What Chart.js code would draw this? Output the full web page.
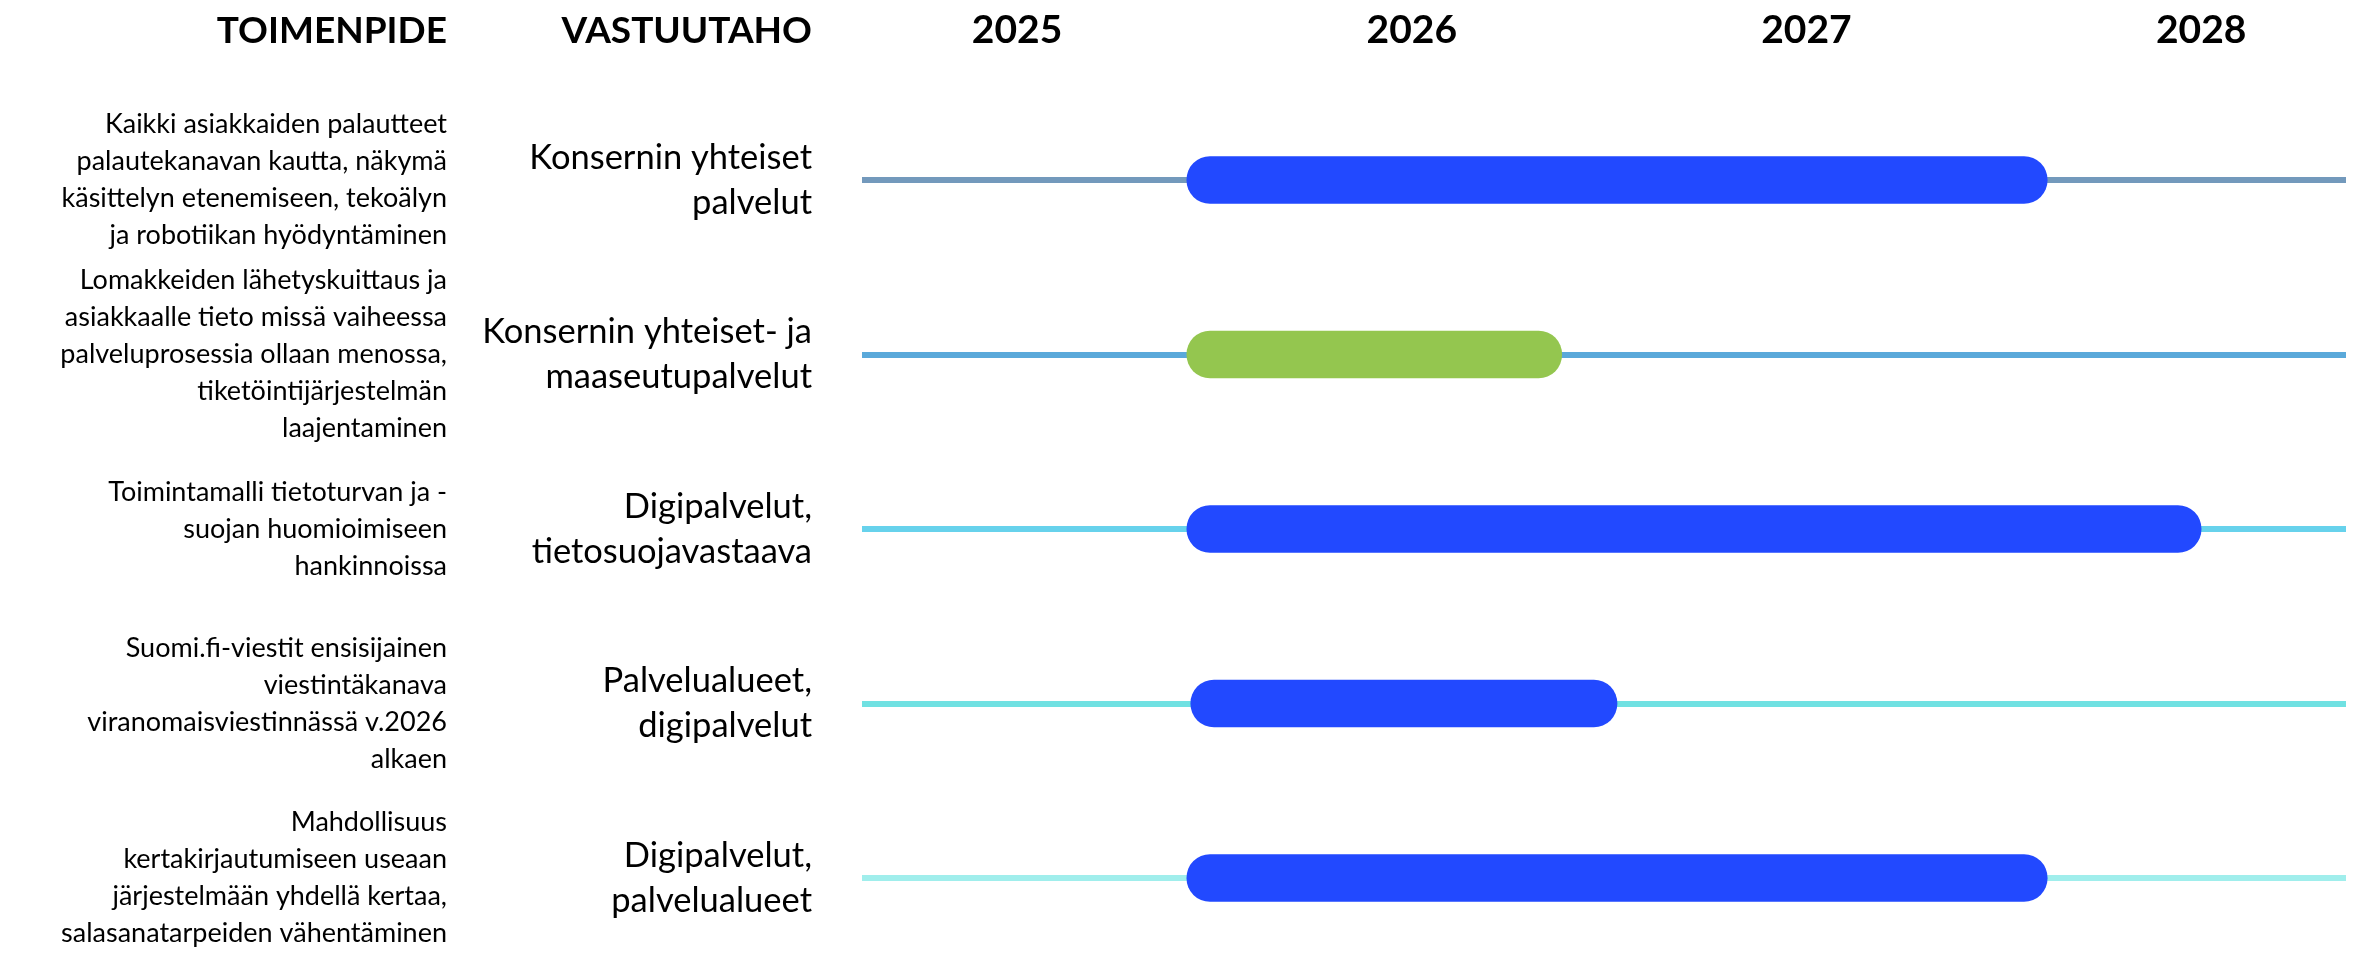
<!DOCTYPE html>
<html lang="fi">
<head>
<meta charset="utf-8">
<title>Toimenpiteet 2025–2028</title>
<script src="https://cdn.jsdelivr.net/npm/chart.js@4.4.1/dist/chart.umd.min.js"></script>
<style>
  html, body { margin: 0; padding: 0; background: #fff; }
  #wrap { width: 2359px; height: 953px; position: relative; }
</style>
</head>
<body>
<div id="wrap"><canvas id="aikajana"></canvas></div>
<script>
// Column headers
const sarakeOtsikot = ['TOIMENPIDE', 'VASTUUTAHO'];

// Rows (left column = action, middle column = responsible party)
const toimenpiteet = [
  ['Kaikki asiakkaiden palautteet', 'palautekanavan kautta, näkymä', 'käsittelyn etenemiseen, tekoälyn', 'ja robotiikan hyödyntäminen'],
  ['Lomakkeiden lähetyskuittaus ja', 'asiakkaalle tieto missä vaiheessa', 'palveluprosessia ollaan menossa,', 'tiketöintijärjestelmän', 'laajentaminen'],
  ['Toimintamalli tietoturvan ja -', 'suojan huomioimiseen', 'hankinnoissa'],
  ['Suomi.fi-viestit ensisijainen', 'viestintäkanava', 'viranomaisviestinnässä v.2026', 'alkaen'],
  ['Mahdollisuus', 'kertakirjautumiseen useaan', 'järjestelmään yhdellä kertaa,', 'salasanatarpeiden vähentäminen']
];
const vastuutahot = [
  ['Konsernin yhteiset', 'palvelut'],
  ['Konsernin yhteiset- ja', 'maaseutupalvelut'],
  ['Digipalvelut,', 'tietosuojavastaava'],
  ['Palvelualueet,', 'digipalvelut'],
  ['Digipalvelut,', 'palvelualueet']
];

// Years on the time axis and the visible range of the timeline
const vuodet = [2025, 2026, 2027, 2028];
const aikaMin = 2024.607;
const aikaMax = 2028.367;

// Start / end of each action (in years)
const alku = [2025.43, 2025.43, 2025.43, 2025.44, 2025.43];
const loppu = [2027.61, 2026.38, 2028.0, 2026.52, 2027.61];

// Colours
const palkkiVarit = ['#2249FF', '#94C64F', '#2249FF', '#2249FF', '#2249FF'];
const viivaVarit = ['#7399BC', '#5AA9DA', '#67D2EC', '#70E1E2', '#A0EEEC'];

const fontti = "Lato, 'Liberation Sans', sans-serif";
const otsikkoKoko = 37;
const vuosiFontti = { family: fontti, size: 39, weight: 'bold' };

// draws the two column headers on the same line as the years
const otsikkoPlugin = {
  id: 'otsikot',
  afterDraw(chart) {
    const { ctx, scales } = chart;
    const x = scales.x;
    const yPos = x.bottom - x.options.ticks.padding - vuosiFontti.size * 1.2 / 2;
    ctx.save();
    ctx.font = 'bold ' + otsikkoKoko + 'px ' + fontti;
    ctx.fillStyle = '#000';
    ctx.textAlign = 'right';
    ctx.textBaseline = 'middle';
    ctx.fillText(sarakeOtsikot[0], scales.y.right - scales.y.options.ticks.padding, yPos);
    ctx.fillText(sarakeOtsikot[1], scales.y2.right - scales.y2.options.ticks.padding, yPos);
    ctx.restore();
  }
};

// fixed axis sizes, no extra label padding pushing the chart area
const fixX = s => { s.height = 180; s.paddingLeft = 0; s.paddingRight = 0; };
const fixY = w => s => { s.width = w; s.paddingTop = 0; s.paddingBottom = 0; };

new Chart(document.getElementById('aikajana'), {
  type: 'bar',
  data: {
    labels: toimenpiteet,
    datasets: [{
      data: alku.map((a, i) => [a, loppu[i]]),
      backgroundColor: palkkiVarit,
      barThickness: 47,
      borderRadius: 24,
      borderSkipped: false,
      clip: false,
      yAxisID: 'y'
    }]
  },
  options: {
    indexAxis: 'y',
    responsive: true,
    maintainAspectRatio: false,
    animation: false,
    layout: { padding: { top: 0, right: 13, bottom: 75, left: 0 } },
    plugins: {
      legend: { display: false },
      tooltip: { enabled: false }
    },
    scales: {
      x: {
        type: 'linear',
        position: 'top',
        min: aikaMin,
        max: aikaMax,
        afterBuildTicks: s => { s.ticks = vuodet.map(v => ({ value: v })); },
        afterFit: fixX,
        grid: { display: false, drawTicks: false },
        border: { display: false },
        ticks: {
          padding: 126,
          color: '#000',
          font: vuosiFontti,
          callback: v => String(v)
        }
      },
      y: {
        type: 'category',
        position: 'left',
        weight: 1,
        offset: false,
        afterFit: fixY(462),
        grid: {
          offset: false,
          drawTicks: false,
          lineWidth: 6,
          color: c => viivaVarit[c.index]
        },
        border: { display: false },
        ticks: {
          autoSkip: false,
          padding: 15,
          color: '#000',
          font: { family: fontti, size: 27, lineHeight: 1.37 }
        }
      },
      y2: {
        type: 'category',
        position: 'left',
        weight: 0,
        offset: false,
        labels: vastuutahot,
        afterFit: fixY(400),
        grid: { display: false, drawTicks: false },
        border: { display: false },
        ticks: {
          autoSkip: false,
          padding: 50,
          color: '#000',
          font: { family: fontti, size: 34.5, lineHeight: 1.3 }
        }
      }
    }
  },
  plugins: [otsikkoPlugin]
});
</script>
</body>
</html>
